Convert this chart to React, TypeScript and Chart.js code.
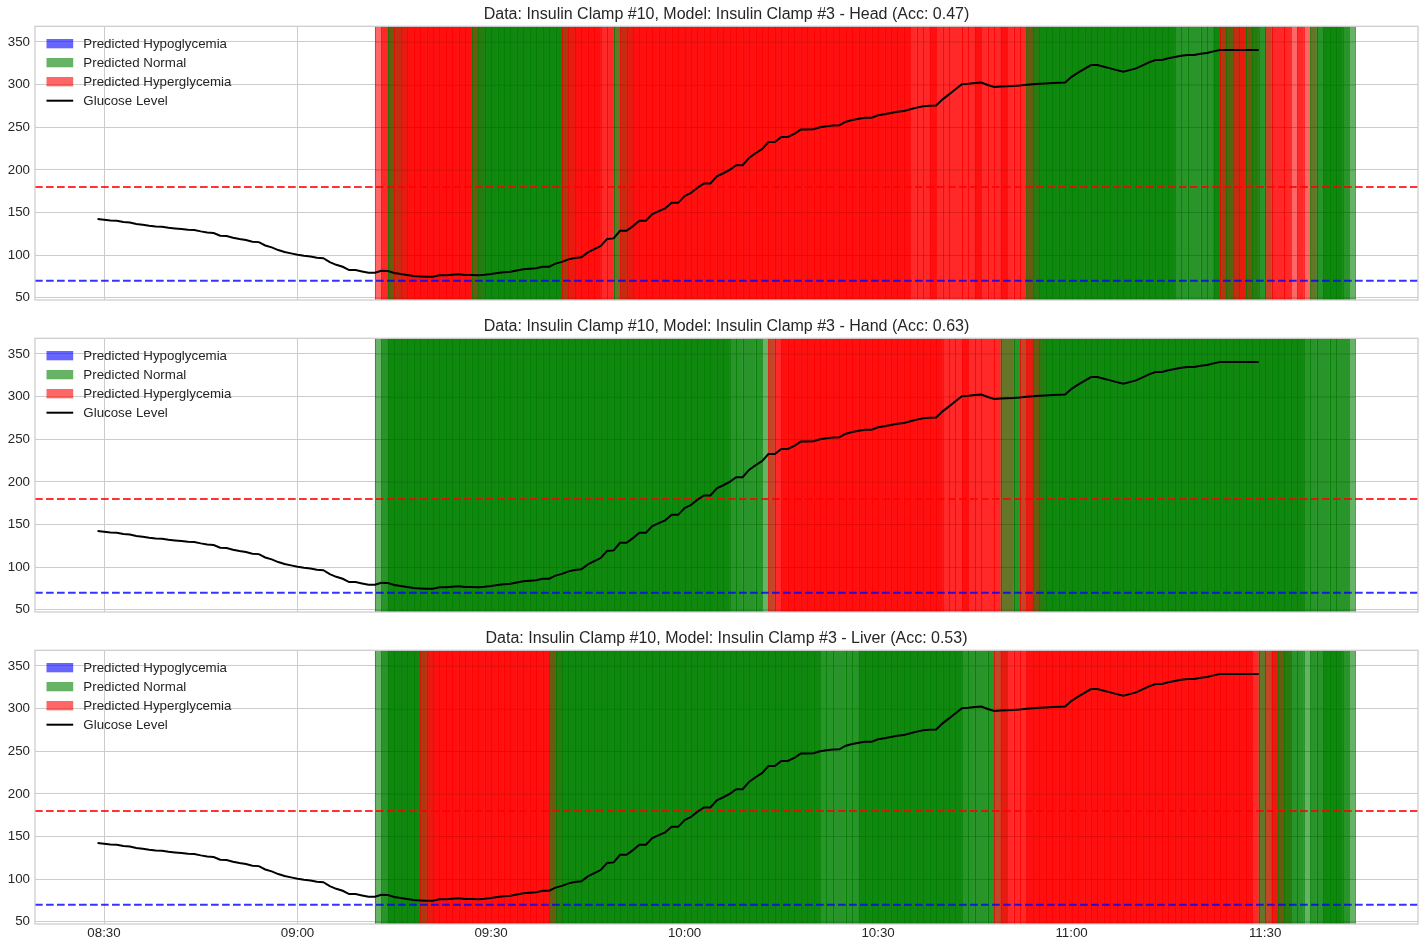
import React, { useEffect, useRef } from "react";
import { Chart, registerables } from "chart.js";

Chart.register(...registerables);

// ---------------- data ----------------
const glucoseStart = "08:29"; // one reading per minute
const glucoseValues = [
  142.2, 141.4, 140.7, 140.3, 138.7, 138.3, 136.4, 135.6, 134.4, 133.6, 133.2,
  132.0, 131.2, 130.5, 129.7, 129.3, 127.8, 126.6, 125.8, 122.7, 122.3,
  120.3, 118.8, 117.6, 115.6, 115.2, 111.3, 109.0, 105.9, 103.6, 102.0,
  100.4, 99.2, 98.4, 96.8, 96.4, 91.8, 88.6, 86.3, 82.4, 82.4,
  80.8, 79.3, 79.3, 81.6, 81.2, 79.0, 77.8, 76.6, 75.4, 75.0,
  74.6, 74.6, 76.2, 76.2, 77.0, 77.4, 76.6, 76.6, 76.4, 76.8,
  77.8, 79.0, 79.8, 80.5, 82.0, 83.3, 84.0, 84.6, 86.3, 86.3,
  90.0, 92.0, 95.0, 96.5, 97.4, 103.2, 107.0, 110.6, 119.0, 119.6,
  128.5, 128.5, 134.0, 140.2, 140.2, 148.1, 151.5, 154.8, 161.3, 161.3,
  169.2, 173.0, 179.0, 184.0, 184.0, 192.5, 196.0, 200.0, 205.5, 205.5,
  214.0, 219.5, 224.3, 232.6, 232.6, 238.6, 238.6, 242.1, 247.2, 247.4,
  247.6, 250.0, 251.2, 252.0, 252.3, 256.5, 258.5, 260.0, 261.1, 261.1,
  264.0, 265.3, 266.6, 268.2, 268.9, 271.0, 273.0, 274.5, 275.2, 275.6,
  282.7, 288.5, 294.6, 300.4, 301.0, 301.8, 302.4, 299.5, 297.3, 297.8,
  298.2, 298.5, 299.0, 299.7, 300.3, 300.9, 301.4, 301.8, 302.2, 302.4,
  309.1, 314.0, 318.5, 322.9, 322.9, 321.0, 319.0, 317.0, 315.0, 317.0,
  319.0, 322.5, 326.0, 328.9, 328.9, 331.0, 332.5, 333.8, 334.8, 334.8,
  336.3, 337.1, 339.0, 340.7, 340.7, 340.7, 340.7, 340.7, 340.7, 340.7,
];

// one prediction per minute from predictionStart; each covers predictionWindow minutes
// H = hyperglycemia, N = normal, L = hypoglycemia, . = no prediction
const predictionStart = "09:12";
const predictionWindow = 3;
const headPredictions =
  "HHNHHHHHHH HHHHHNNNNN NNNNNNNNNH HHHHH.HNHH HHHHHHHHHH HHHHHHHHHH HHHHHHHHHH HHHHHHHHHH HHH.HHH.HH .HHH.HHH.H HNNNNNNNNN NNNNNNNNNN NNNN.NN.NN NHNHHNN.HH .H.H.NNNNN";
const handPredictions =
  "NNNNNNNNNN NNNNNNNNNN NNNNNNNNNN NNNNNNNNNN NNNNNNNNNN NNNNN.NN.N .HHHHHHHHH HHHHHHHHHH HHHHHHHH.H HH.HH.HN.N HHNNNNNNNN NNNNNNNNNN NNNNNNNNNN NNNNNNNNNN NNNN.NN.NN";
const liverPredictions =
  "NNNNNNNHHH HHHHHHHHHH HHHHHHHNNN NNNNNNNNNN NNNNNNNNNN NNNNNNNNNN NNNNNNNNN. NN.NNNNNNN NNNNNNNNNN N.NN.NHH.H HHHHHHHHHH HHHHHHHHHH HHHHHHHHHH HHHHHH.NHH NN.N.NNNNN";

const panelTitles = [
  "Data: Insulin Clamp #10, Model: Insulin Clamp #3 - Head (Acc: 0.47)",
  "Data: Insulin Clamp #10, Model: Insulin Clamp #3 - Hand (Acc: 0.63)",
  "Data: Insulin Clamp #10, Model: Insulin Clamp #3 - Liver (Acc: 0.53)",
];
const panelPredictions = [headPredictions, handPredictions, liverPredictions];

const xTickLabels = ["08:30", "09:00", "09:30", "10:00", "10:30", "11:00", "11:30"];
const yTickValues = [50, 100, 150, 200, 250, 300, 350];
const xRange = ["08:19.3", "11:53.7"];
const yRange = [47.3, 368.4];
const hyperThreshold = 180;
const hypoThreshold = 70;
const legendLabels = [
  "Predicted Hypoglycemia",
  "Predicted Normal",
  "Predicted Hyperglycemia",
  "Glucose Level",
];

// ---------------- helpers ----------------
const FONT = "'Liberation Sans', Arial, 'DejaVu Sans', sans-serif";
const TEXT = "#262626";
const SMALL = 13.33;
const toMin = (s: string) => {
  const [h, m] = s.split(":");
  return parseInt(h, 10) * 60 + parseFloat(m);
};
const fmt = (v: number) => {
  const h = Math.floor(v / 60);
  const m = Math.round(v - h * 60);
  return String(h).padStart(2, "0") + ":" + String(m).padStart(2, "0");
};
const classColor: Record<string, string> = {
  L: "rgba(0,0,255,0.6)",
  N: "rgba(0,128,0,0.6)",
  H: "rgba(255,0,0,0.6)",
};
const legendColors = ["rgba(0,0,255,0.6)", "rgba(0,128,0,0.6)", "rgba(255,0,0,0.6)"];

const glucosePoints = glucoseValues.map((v, i) => ({ x: toMin(glucoseStart) + i, y: v }));

const spanPlugin = {
  id: "spans",
  beforeDatasetsDraw(chart: any, _args: any, opts: any) {
    const { ctx, chartArea: a, scales } = chart;
    const x = scales.x;
    const y = scales.y;
    ctx.save();
    ctx.beginPath();
    ctx.rect(a.left, a.top, a.right - a.left, a.bottom - a.top);
    ctx.clip();
    const preds: string[] = opts.predictions;
    const start = toMin(predictionStart);
    let minX = Infinity;
    let maxX = -Infinity;
    preds.forEach((c, i) => {
      if (!classColor[c]) return;
      const x0 = x.getPixelForValue(start + i);
      const x1 = x.getPixelForValue(start + i + predictionWindow);
      minX = Math.min(minX, x0);
      maxX = Math.max(maxX, x1);
      ctx.fillStyle = classColor[c];
      ctx.fillRect(x0, a.top, x1 - x0, a.bottom - a.top);
      ctx.strokeStyle = classColor[c];
      ctx.lineWidth = 1;
      ctx.beginPath();
      ctx.moveTo(Math.round(x0) + 0.5, a.top);
      ctx.lineTo(Math.round(x0) + 0.5, a.bottom);
      ctx.moveTo(Math.round(x1) + 0.5, a.top);
      ctx.lineTo(Math.round(x1) + 0.5, a.bottom);
      ctx.stroke();
    });
    // grid showing faintly through the translucent spans
    ctx.strokeStyle = "rgba(0,0,0,0.09)";
    ctx.lineWidth = 1;
    ctx.beginPath();
    yTickValues.forEach((v) => {
      const py = Math.round(y.getPixelForValue(v)) + 0.5;
      ctx.moveTo(minX, py);
      ctx.lineTo(maxX, py);
    });
    ctx.stroke();
    // threshold lines
    const drawH = (v: number, color: string) => {
      const py = y.getPixelForValue(v);
      ctx.strokeStyle = color;
      ctx.lineWidth = 2;
      ctx.setLineDash([7.7, 3.3]);
      ctx.beginPath();
      ctx.moveTo(a.left, py);
      ctx.lineTo(a.right, py);
      ctx.stroke();
    };
    drawH(hyperThreshold, "rgba(255,0,0,0.8)");
    drawH(hypoThreshold, "rgba(0,0,255,0.8)");
    ctx.restore();
  },
  afterDraw(chart: any) {
    const { ctx, chartArea: a } = chart;
    ctx.save();
    // frame
    ctx.strokeStyle = "#cccccc";
    ctx.lineWidth = 1.25;
    ctx.strokeRect(a.left, a.top, a.right - a.left, a.bottom - a.top);
    // legend
    ctx.font = `${SMALL}px ${FONT}`;
    ctx.textBaseline = "middle";
    ctx.textAlign = "left";
    legendLabels.forEach((label, k) => {
      const cy = a.top + 17.4 + k * 19;
      const px = a.left + 11.5;
      if (k < 3) {
        ctx.fillStyle = legendColors[k];
        ctx.fillRect(px, cy - 4.7, 26.7, 9.3);
      } else {
        ctx.strokeStyle = "#000";
        ctx.lineWidth = 2;
        ctx.beginPath();
        ctx.moveTo(px, cy);
        ctx.lineTo(px + 26.7, cy);
        ctx.stroke();
      }
      ctx.fillStyle = TEXT;
      ctx.fillText(label, a.left + 48.3, cy + 0.5);
    });
    ctx.restore();
  },
};

function makeChart(canvas: HTMLCanvasElement, idx: number, showX: boolean) {
  const preds = panelPredictions[idx].replace(/\s+/g, "").split("");
  return new Chart(canvas, {
    type: "line",
    data: {
      datasets: [
        {
          label: legendLabels[3],
          data: glucosePoints,
          borderColor: "#000000",
          borderWidth: 2,
          pointRadius: 0,
          tension: 0,
          fill: false,
        },
      ],
    },
    options: {
      responsive: false,
      animation: false,
      devicePixelRatio: 1,
      layout: { padding: { left: 0, right: 9, top: 0, bottom: 0 } },
      plugins: {
        legend: { display: false },
        tooltip: { enabled: false },
        title: {
          display: true,
          fullSize: false,
          text: panelTitles[idx],
          color: TEXT,
          font: { size: 16, family: FONT, weight: "normal" },
          padding: { top: 5, bottom: 2.1 },
        },
        spans: { predictions: preds },
      } as any,
      scales: {
        x: {
          type: "linear",
          min: toMin(xRange[0]),
          max: toMin(xRange[1]),
          afterBuildTicks: (s: any) => {
            s.ticks = xTickLabels.map((t) => ({ value: toMin(t) }));
          },
          afterFit: (s: any) => {
            s.height = showX ? 23 : 10;
            s.paddingLeft = 0;
            s.paddingRight = 0;
          },
          grid: { color: "#cccccc", lineWidth: 1, drawTicks: false },
          border: { display: false },
          ticks: {
            display: showX,
            color: TEXT,
            font: { size: SMALL, family: FONT },
            padding: 1,
            maxRotation: 0,
            autoSkip: false,
            callback: (v: any) => fmt(Number(v)),
          },
        },
        y: {
          type: "linear",
          min: yRange[0],
          max: yRange[1],
          afterBuildTicks: (s: any) => {
            s.ticks = yTickValues.map((v) => ({ value: v }));
          },
          afterFit: (s: any) => {
            s.width = 35;
            s.paddingTop = 0;
            s.paddingBottom = 0;
          },
          grid: { color: "#cccccc", lineWidth: 1, drawTicks: false },
          border: { display: false },
          ticks: {
            color: TEXT,
            font: { size: SMALL, family: FONT },
            padding: 5,
            callback: (v: any) => String(v),
          },
        },
      },
    },
    plugins: [spanPlugin as any],
  });
}

const panelTops = [0, 312, 624];
const panelHeights = [310, 310, 323];

export default function App() {
  const refs = [useRef<HTMLCanvasElement>(null), useRef<HTMLCanvasElement>(null), useRef<HTMLCanvasElement>(null)];
  useEffect(() => {
    document.body.style.margin = "0";
    const charts = refs.map((r, i) => makeChart(r.current as HTMLCanvasElement, i, i === 2));
    return () => charts.forEach((c) => c.destroy());
  }, []);
  return (
    <div style={{ position: "absolute", left: 0, top: 0, width: 1427, height: 947, background: "#fff" }}>
      {refs.map((r, i) => (
        <canvas
          key={i}
          ref={r}
          width={1427}
          height={panelHeights[i]}
          style={{ position: "absolute", left: 0, top: panelTops[i], width: 1427, height: panelHeights[i] }}
        />
      ))}
    </div>
  );
}
